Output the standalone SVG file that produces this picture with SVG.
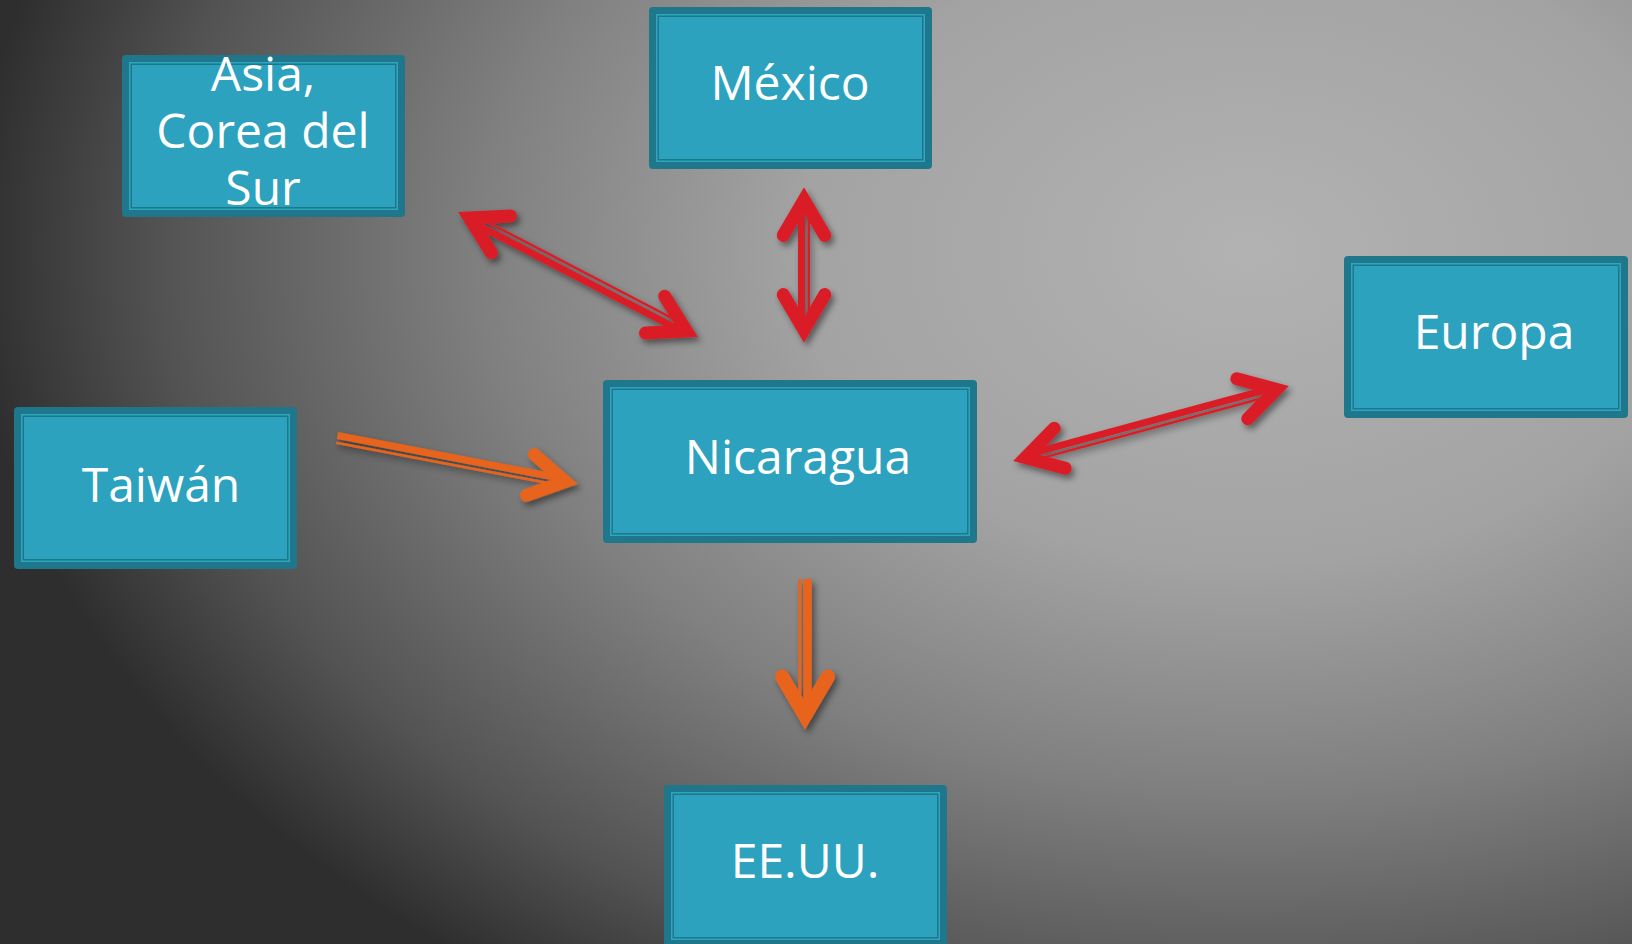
<svg xmlns="http://www.w3.org/2000/svg" xmlns:xlink="http://www.w3.org/1999/xlink" width="1632" height="944" viewBox="0 0 1632 944">
  <defs>
    <radialGradient id="bg" gradientUnits="userSpaceOnUse" cx="1250" cy="250" r="1280" gradientTransform="translate(1250 250) scale(1 0.7) translate(-1250 -250)">
      <stop offset="0" stop-color="#b2b2b2"/>
      <stop offset="0.35" stop-color="#a3a3a3"/>
      <stop offset="0.6" stop-color="#808080"/>
      <stop offset="0.85" stop-color="#535353"/>
      <stop offset="1" stop-color="#2e2e2e"/>
    </radialGradient>
    <filter id="shadow" x="-20%" y="-20%" width="140%" height="140%">
      <feDropShadow dx="3" dy="4" stdDeviation="3" flood-color="#000" flood-opacity="0.45"/>
    </filter>
    <path id="head" d="M -48.4,-20.75 L -13,0 L -48.4,20.75" fill="none" stroke-width="13" stroke-linecap="round" stroke-linejoin="miter" stroke-miterlimit="10"/>
  </defs>
  <style>
    .outer { fill: #1f778b; }
    .line1 { fill: #2ea5c1; }
    .line2 { fill: #1f778b; }
    .fill { fill: #2ca2bf; }
    .label { font-family: "Open Sans", "DejaVu Sans", sans-serif; font-size: 48px; fill: #ffffff; text-anchor: middle; }
    .red { stroke: #da1f27; }
    .orange { stroke: #e8641c; }
    .thick { stroke-width: 7; fill: none; }
    .thin { stroke-width: 2.5; fill: none; }
  </style>

  <rect x="0" y="0" width="1632" height="944" fill="url(#bg)"/>

  <g id="node-asia">
    <rect class="outer" x="122" y="55" width="283" height="162" rx="4"/>
    <rect class="line1" x="129" y="62" width="269" height="148"/>
    <rect class="line2" x="130.5" y="63.5" width="266" height="145"/>
    <rect class="fill" x="132" y="65" width="263" height="142"/>
    <text class="label" x="263" y="91">Asia,</text>
    <text class="label" x="263" y="148">Corea del</text>
    <text class="label" x="263" y="205">Sur</text>
  </g>

  <g id="node-mexico">
    <rect class="outer" x="649" y="7" width="283" height="162" rx="4"/>
    <rect class="line1" x="656" y="14" width="269" height="148"/>
    <rect class="line2" x="657.5" y="15.5" width="266" height="145"/>
    <rect class="fill" x="659" y="17" width="263" height="142"/>
    <text class="label" x="790" y="100">México</text>
  </g>

  <g id="node-nicaragua">
    <rect class="outer" x="603" y="380" width="374" height="163" rx="4"/>
    <rect class="line1" x="610" y="387" width="360" height="149"/>
    <rect class="line2" x="611.5" y="388.5" width="357" height="146"/>
    <rect class="fill" x="613" y="390" width="354" height="143"/>
    <text class="label" x="798" y="474">Nicaragua</text>
  </g>

  <g id="node-taiwan">
    <rect class="outer" x="14" y="407" width="283" height="162" rx="4"/>
    <rect class="line1" x="21" y="414" width="269" height="148"/>
    <rect class="line2" x="22.5" y="415.5" width="266" height="145"/>
    <rect class="fill" x="24" y="417" width="263" height="142"/>
    <text class="label" x="161" y="502">Taiwán</text>
  </g>

  <g id="node-europa">
    <rect class="outer" x="1344" y="256" width="284" height="162" rx="4"/>
    <rect class="line1" x="1351" y="263" width="270" height="148"/>
    <rect class="line2" x="1352.5" y="264.5" width="267" height="145"/>
    <rect class="fill" x="1354" y="266" width="264" height="142"/>
    <text class="label" x="1494" y="349">Europa</text>
  </g>

  <g id="node-eeuu">
    <rect class="outer" x="664" y="785" width="283" height="162" rx="4"/>
    <rect class="line1" x="671" y="792" width="269" height="148"/>
    <rect class="line2" x="672.5" y="793.5" width="266" height="145"/>
    <rect class="fill" x="674" y="795" width="263" height="142"/>
    <text class="label" x="805" y="878">EE.UU.</text>
  </g>

  <g id="connectors" filter="url(#shadow)">
    <!-- Asia <-> Nicaragua -->
    <g class="red">
      <line class="thick" x1="469.25" y1="220.72" x2="684.45" y2="332.72"/>
      <line class="thin" x1="472.59" y1="214.29" x2="687.79" y2="326.29"/>
      <use xlink:href="#head" transform="translate(458 212) rotate(207.5)"/>
      <use xlink:href="#head" transform="translate(698 337) rotate(27.5)"/>
    </g>
    <!-- Mexico <-> Nicaragua -->
    <g class="red">
      <line class="thick" x1="801.5" y1="200" x2="801.5" y2="330"/>
      <line class="thin" x1="808.75" y1="200" x2="808.75" y2="330"/>
      <use xlink:href="#head" transform="translate(804 187) rotate(-90)"/>
      <use xlink:href="#head" transform="translate(804 343) rotate(90)"/>
    </g>
    <!-- Europa <-> Nicaragua -->
    <g class="red">
      <line class="thick" x1="1025.85" y1="454.89" x2="1274.85" y2="387.29"/>
      <line class="thin" x1="1027.74" y1="461.88" x2="1276.74" y2="394.28"/>
      <use xlink:href="#head" transform="translate(1013 461) rotate(164.8)"/>
      <use xlink:href="#head" transform="translate(1289 386) rotate(-15.2)"/>
    </g>
    <!-- Taiwan -> Nicaragua -->
    <g class="orange">
      <line class="thick" x1="337.47" y1="435.54" x2="564.77" y2="478.94"/>
      <line class="thin" x1="336.11" y1="442.66" x2="563.41" y2="486.06"/>
      <use xlink:href="#head" transform="translate(578 484) rotate(10.8)"/>
    </g>
    <!-- Nicaragua -> EE.UU. -->
    <g class="orange">
      <line x1="807.5" y1="579" x2="807.5" y2="716" stroke-width="8.4" fill="none"/>
      <line x1="799.8" y1="579" x2="799.8" y2="716" stroke-width="3" fill="none"/>
      <use xlink:href="#head" transform="translate(805 730) rotate(90) scale(1.1)"/>
    </g>
  </g>
</svg>
